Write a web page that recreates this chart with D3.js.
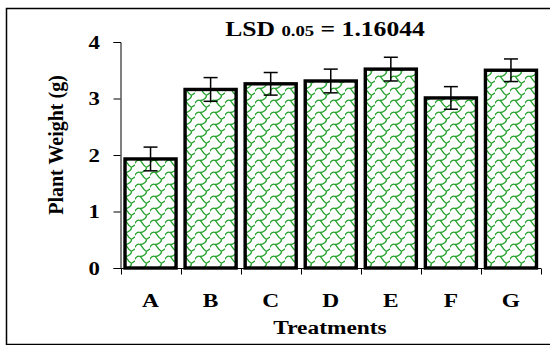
<!DOCTYPE html>
<html>
<head>
<meta charset="utf-8">
<script src="https://cdn.jsdelivr.net/npm/d3@7"></script>
<style>
  html, body { margin: 0; padding: 0; background: #fff; }
  svg { display: block; }
  text { font-family: "Liberation Serif", "Times New Roman", serif; font-weight: bold; fill: #000; }
</style>
</head>
<body>
<script>
// Treatment means of plant weight with their error margins
const treatments = ["A", "B", "C", "D", "E", "F", "G"];
const weights = [1.93, 3.16, 3.26, 3.31, 3.52, 3.01, 3.50];
const errors = [0.21, 0.21, 0.20, 0.21, 0.21, 0.20, 0.20];
const yTicks = [0, 1, 2, 3, 4];

const W = 550, H = 345;
const SX = 1.2; // horizontal stretch used for the lettering
const svg = d3.select("body").append("svg").attr("width", W).attr("height", H);

// Shingle-like green fill pattern
const defs = svg.append("defs");
const pat = defs.append("pattern")
  .attr("id", "shingle")
  .attr("patternUnits", "userSpaceOnUse")
  .attr("x", 0).attr("y", 2)
  .attr("width", 15).attr("height", 12);
pat.append("rect").attr("width", 15).attr("height", 12).attr("fill", "#fff");
pat.append("path")
  .attr("d", [
    "M-1,6.5 C1,3 3,1.5 5,2.5 C7,3.5 8,8 11,9 C13,9.5 14,7 16,6.5",
    "M11,9 C12.5,11.5 8,14.5 5,14.5",
    "M11,-3 C12.5,-0.5 8,2.5 5,2.5"
  ].join(" "))
  .attr("fill", "none")
  .attr("stroke", "#22a02a")
  .attr("stroke-width", 1.3);

// Outer frame
svg.append("rect")
  .attr("x", 6.5).attr("y", 8.5).attr("width", 546).attr("height", 336)
  .attr("fill", "none").attr("stroke", "#000").attr("stroke-width", 1.5);

const x = d3.scaleBand().domain(treatments).range([120.5, 541]).paddingInner(0.15).paddingOuter(0.075);
const y = d3.scaleLinear().domain([0, 4]).range([268, 42]);

// Bars
svg.append("g").selectAll("rect").data(weights).join("rect")
  .attr("x", (d, i) => x(treatments[i]))
  .attr("y", d => y(d))
  .attr("width", x.bandwidth())
  .attr("height", d => y(0) - y(d))
  .attr("fill", "url(#shingle)")
  .attr("stroke", "#000")
  .attr("stroke-width", 3.4);

// Error bars
const eb = svg.append("g").attr("stroke", "#000").attr("stroke-width", 1.5);
weights.forEach((d, i) => {
  const cx = x(treatments[i]) + x.bandwidth() / 2;
  eb.append("line").attr("x1", cx).attr("x2", cx).attr("y1", y(d + errors[i])).attr("y2", y(d - errors[i]));
  eb.append("line").attr("x1", cx - 7).attr("x2", cx + 7).attr("y1", y(d + errors[i])).attr("y2", y(d + errors[i]));
  eb.append("line").attr("x1", cx - 7).attr("x2", cx + 7).attr("y1", y(d - errors[i])).attr("y2", y(d - errors[i]));
});

// Helper: stretched text anchored at (px, py)
function label(px, py, str, size, anchor, sx) {
  return svg.append("text")
    .attr("transform", `translate(${px},${py}) scale(${sx || SX},1)`)
    .attr("text-anchor", anchor || "middle")
    .style("font-size", size + "px")
    .text(str);
}

// Y axis (ticks from the axis, lettering drawn stretched)
const yAxis = svg.append("g").attr("transform", "translate(120.5,0)")
  .call(d3.axisLeft(y).tickValues(yTicks).tickSize(7).tickFormat(""));
yAxis.select(".domain").attr("stroke-width", 1);
yTicks.forEach(t => label(100, y(t) + 6.5, d3.format("d")(t), 19, "end"));

// X axis: ticks at band boundaries
const xAxis = svg.append("g").attr("transform", "translate(0,268.5)");
xAxis.append("line").attr("x1", 120.5).attr("x2", 541).attr("stroke", "#000");
const edges = treatments.map(t => x(t) - x.step() * x.paddingInner() / 2).concat([541]);
xAxis.selectAll("line.tk").data(edges).join("line").attr("class", "tk")
  .attr("x1", d => Math.round(d) + 0.5).attr("x2", d => Math.round(d) + 0.5)
  .attr("y1", 0).attr("y2", 6).attr("stroke", "#000");
treatments.forEach(t => label(x(t) + x.bandwidth() / 2, 306.5, t, 19.5));

// Axis titles
label(330, 334, "Treatments", 19.5);
svg.append("text")
  .attr("transform", "translate(63,145) rotate(-90) scale(1,1.1)")
  .attr("text-anchor", "middle")
  .style("font-size", "20px").text("Plant Weight (g)");

// Title with subscripted significance level
const title = label(325, 36, "", 20.5, "middle", 1.25);
title.append("tspan").text("LSD ");
title.append("tspan").style("font-size", "15px").text("0.05");
title.append("tspan").text(" = 1.16044");
</script>
</body>
</html>
